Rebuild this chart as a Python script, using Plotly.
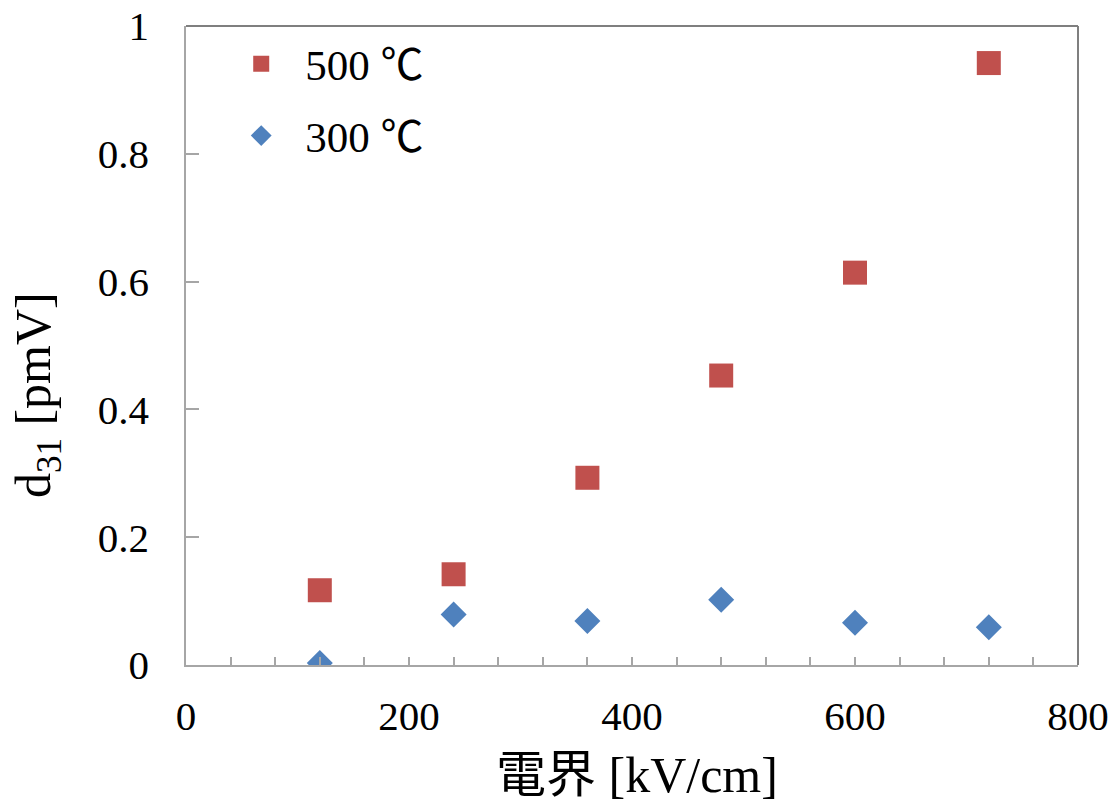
import plotly.graph_objects as go

# Electric field [kV/cm]
field = [120, 240, 360, 480, 600, 720]
# d31 at each field for the two anneal temperatures
d31_500 = [0.117, 0.142, 0.293, 0.453, 0.614, 0.942]
d31_300 = [0.003, 0.079, 0.069, 0.102, 0.066, 0.059]

series_names = ["500 ℃", "300 ℃"]
x_title = "電界 [kV/cm]"
y_title = "d<sub>31</sub> [pmV]"

FONT = "Liberation Serif, 'Times New Roman', 'Noto Sans CJK JP', serif"
AXIS_GRAY = "#A6A6A6"
FRAME_GRAY = "#7F7F7F"

fig = go.Figure()
fig.add_trace(go.Scatter(
    x=field, y=d31_500, mode="markers", name=series_names[0],
    legendgroup="a",
    marker=dict(symbol="square", size=24, color="#C0504D"),
))
fig.add_trace(go.Scatter(
    x=field, y=d31_300, mode="markers", name=series_names[1],
    legendgroup="b",
    marker=dict(symbol="diamond", size=20, color="#4F81BD"),
))

fig.update_layout(
    width=1117, height=808,
    margin=dict(l=186, r=39, t=26, b=143),
    paper_bgcolor="white", plot_bgcolor="white",
    font=dict(family=FONT, color="black", size=41),
    showlegend=True,
    legend=dict(
        x=0.035, y=0.995, xanchor="left", yanchor="top",
        bgcolor="rgba(0,0,0,0)",
        font=dict(size=43),
        itemwidth=78,
        tracegroupgap=13,
    ),
    xaxis=dict(
        range=[0, 800], dtick=200, tick0=0,
        showgrid=False, zeroline=False, automargin=False,
        showline=True, linecolor=AXIS_GRAY, linewidth=1.5,
        ticks="inside", ticklen=8, tickcolor=AXIS_GRAY, tickwidth=1.5,
        minor=dict(dtick=40, ticks="inside", ticklen=8, tickcolor=AXIS_GRAY, tickwidth=1.5),
        tickfont=dict(size=41),
        ticklabelstandoff=14,
    ),
    yaxis=dict(
        range=[0, 1], dtick=0.2, tick0=0,
        showgrid=False, zeroline=False, automargin=False,
        showline=True, linecolor=AXIS_GRAY, linewidth=1.5,
        ticks="inside", ticklen=13, tickcolor=AXIS_GRAY, tickwidth=1.5,
        tickfont=dict(size=41),
        ticklabelstandoff=27,
    ),
    annotations=[
        dict(text=x_title, xref="paper", yref="paper", x=0.506, y=-0.172,
             xanchor="center", yanchor="middle", showarrow=False,
             font=dict(size=50)),
        dict(text=y_title, xref="paper", yref="paper", x=-0.167, y=0.4225,
             xanchor="center", yanchor="middle", showarrow=False,
             textangle=-90, font=dict(size=50)),
    ],
    shapes=[
        dict(type="line", xref="paper", yref="paper", x0=0, x1=1, y0=1, y1=1,
             line=dict(color=FRAME_GRAY, width=2)),
        dict(type="line", xref="paper", yref="paper", x0=1, x1=1, y0=0, y1=1,
             line=dict(color=FRAME_GRAY, width=2)),
    ],
)

fig.write_html("out.html")
